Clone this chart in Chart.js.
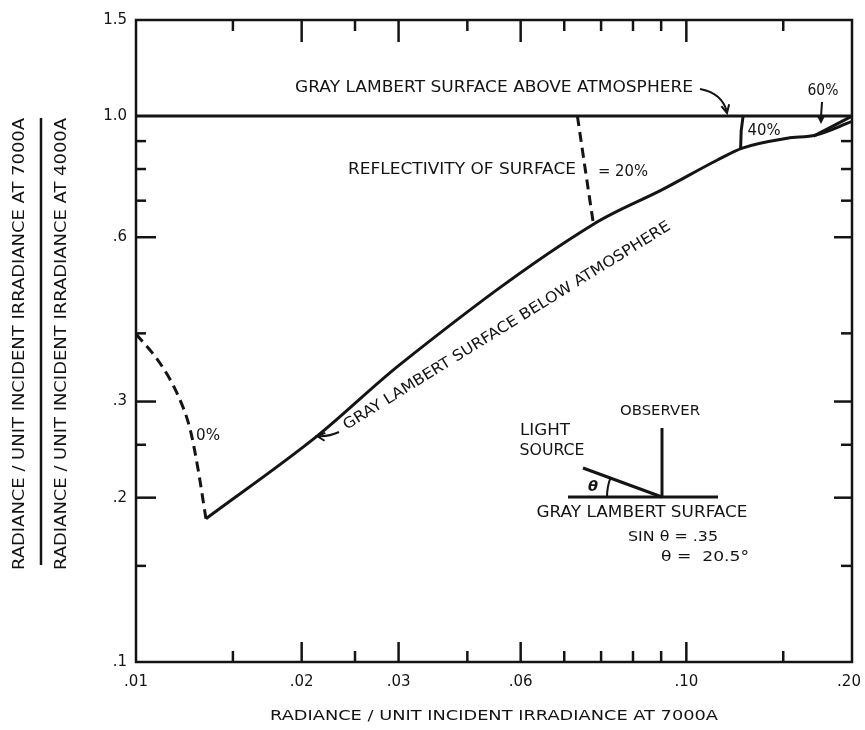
<!DOCTYPE html>
<html>
<head>
<meta charset="utf-8">
<script src="https://cdn.jsdelivr.net/npm/chart.js@4.4.0/dist/chart.umd.min.js"></script>
<style>
  html, body { margin: 0; padding: 0; background: #ffffff; }
  #wrap { width: 865px; height: 730px; position: relative; }
</style>
</head>
<body>
<div id="wrap"><canvas id="c" width="865" height="730"></canvas></div>
<script>
// ---- axis ticks ----
const xTickValues = [0.01, 0.02, 0.03, 0.05, 0.10, 0.20];
const xTickLabels = ['.01', '.02', '.03', '.06', '.10', '.20'];
const xMajorTicks = [0.02, 0.03, 0.05, 0.10];
const xMinorTicks = [0.015, 0.025, 0.04, 0.06, 0.07, 0.08, 0.09, 0.15];
const yTickValues = [0.1, 0.2, 0.3, 0.6, 1.0, 1.5];
const yTickLabels = ['.1', '.2', '.3', '.6', '1.0', '1.5'];
const yMajorTicks = [0.2, 0.3, 0.6];
const yMinorTicks = [0.15, 0.25, 0.4, 0.7, 0.8, 0.9];

// ---- curves ----
// gray Lambert surface above the atmosphere
const aboveX = [0.01, 0.20];
const aboveY = [1.0, 1.0];
// gray Lambert surface below the atmosphere
const belowX = [0.0134, 0.0213, 0.0302, 0.0678, 0.0908, 0.1139, 0.1264, 0.1526, 0.1718, 0.20];
const belowY = [0.183, 0.259, 0.351, 0.634, 0.735, 0.831, 0.874, 0.911, 0.923, 0.978];
// constant-reflectivity connectors
const refl0X = [0.01, 0.01105, 0.01192, 0.01254, 0.01296, 0.0134];
const refl0Y = [0.399, 0.353, 0.308, 0.267, 0.226, 0.183];
const refl20X = [0.0634, 0.0655, 0.0678];
const refl20Y = [1.0, 0.80, 0.634];
const refl40X = [0.1268, 0.1258, 0.1255];
const refl40Y = [1.0, 0.94, 0.874];
const refl60X = [0.1703, 0.20];
const refl60Y = [0.919, 1.0];

const INK = '#141414';
const FONT = '"DejaVu Sans", "Liberation Sans", sans-serif';

const pts = (xs, ys) => xs.map((x, i) => ({ x: x, y: ys[i] }));
const line = (xs, ys, dashed, smooth) => ({
  data: pts(xs, ys),
  showLine: true,
  borderColor: INK,
  borderWidth: 3,
  borderDash: dashed ? [10, 6] : [],
  pointRadius: 0,
  cubicInterpolationMode: smooth ? 'monotone' : 'default',
  tension: smooth ? 0.4 : 0,
  fill: false,
  clip: false
});

// draw text stretched/condensed to a given width
function fitText(ctx, text, cx, cy, width, size, rot, weight) {
  ctx.save();
  ctx.translate(cx, cy);
  if (rot) ctx.rotate(rot);
  ctx.font = (weight || '') + ' ' + size + 'px ' + FONT;
  const w = ctx.measureText(text).width;
  ctx.scale(width / w, 1);
  ctx.textAlign = 'center';
  ctx.textBaseline = 'middle';
  ctx.fillStyle = INK;
  ctx.fillText(text, 0, 0);
  ctx.restore();
}

function arrowHead(ctx, x, y, angle, len, filled) {
  ctx.save();
  ctx.translate(x, y);
  ctx.rotate(angle);
  ctx.beginPath();
  ctx.moveTo(-len, -len * 0.5);
  ctx.lineTo(0, 0);
  ctx.lineTo(-len, len * 0.5);
  if (filled) { ctx.closePath(); ctx.fill(); } else { ctx.stroke(); }
  ctx.restore();
}

const framePlugin = {
  id: 'frame',
  afterDraw(chart) {
    const ctx = chart.ctx;
    const xs = chart.scales.x, ys = chart.scales.y;
    const a = chart.chartArea;
    ctx.save();
    ctx.strokeStyle = INK;
    ctx.fillStyle = INK;
    ctx.lineCap = 'butt';

    // frame
    ctx.lineWidth = 2.5;
    ctx.strokeRect(a.left, a.top, a.right - a.left, a.bottom - a.top);

    // inward ticks
    ctx.lineWidth = 2.5;
    const tick = (x1, y1, x2, y2) => { ctx.beginPath(); ctx.moveTo(x1, y1); ctx.lineTo(x2, y2); ctx.stroke(); };
    xMajorTicks.forEach(v => { const p = xs.getPixelForValue(v); tick(p, a.bottom, p, a.bottom - 20); tick(p, a.top, p, a.top + 22); });
    xMinorTicks.forEach(v => { const p = xs.getPixelForValue(v); tick(p, a.bottom, p, a.bottom - 11); tick(p, a.top, p, a.top + 11); });
    yMajorTicks.forEach(v => { const p = ys.getPixelForValue(v); tick(a.left, p, a.left + 20, p); tick(a.right, p, a.right - 18, p); });
    yMinorTicks.forEach(v => { const p = ys.getPixelForValue(v); tick(a.left, p, a.left + 10, p); tick(a.right, p, a.right - 11, p); });

    // tick labels
    ctx.font = '15px ' + FONT;
    ctx.textBaseline = 'middle';
    ctx.textAlign = 'right';
    yTickValues.forEach((v, i) => ctx.fillText(yTickLabels[i], a.left - 9, ys.getPixelForValue(v)));
    ctx.textAlign = 'center';
    xTickValues.forEach((v, i) => {
      let p = xs.getPixelForValue(v);
      if (i === xTickValues.length - 1) p -= 3;
      ctx.fillText(xTickLabels[i], p, a.bottom + 20);
    });

    // axis titles
    fitText(ctx, 'RADIANCE / UNIT INCIDENT IRRADIANCE AT 7000A', (a.left + a.right) / 2, 716, 448, 14);
    fitText(ctx, 'RADIANCE / UNIT INCIDENT IRRADIANCE AT 7000A', 20, 344, 452, 15, -Math.PI / 2);
    fitText(ctx, 'RADIANCE / UNIT INCIDENT IRRADIANCE AT 4000A', 62, 344, 452, 15, -Math.PI / 2);
    ctx.lineWidth = 2.5;
    tick(41, 118, 41, 565);

    // curve annotations
    fitText(ctx, 'GRAY LAMBERT SURFACE ABOVE ATMOSPHERE', 494, 88, 398, 16);
    fitText(ctx, 'REFLECTIVITY OF SURFACE', 462, 170, 228, 16);
    fitText(ctx, '= 20%', 623, 172, 50, 16);
    fitText(ctx, '40%', 764, 131, 33, 16);
    fitText(ctx, '60%', 823, 91, 31, 16);
    fitText(ctx, '0%', 208, 436, 24, 16);
    fitText(ctx, 'GRAY LAMBERT SURFACE BELOW ATMOSPHERE', 507, 326, 382, 15, -0.555);

    // pointer arrows
    ctx.lineWidth = 2;
    ctx.beginPath();
    ctx.moveTo(700, 89);
    ctx.quadraticCurveTo(722, 93, 727, 112);
    ctx.stroke();
    arrowHead(ctx, 727, 113, 1.35, 8, false);

    ctx.beginPath();
    ctx.moveTo(339, 432);
    ctx.quadraticCurveTo(328, 437, 318, 436);
    ctx.stroke();
    arrowHead(ctx, 317, 436, Math.PI + 0.1, 8, false);

    ctx.beginPath();
    ctx.moveTo(822, 102);
    ctx.lineTo(821, 117);
    ctx.stroke();
    arrowHead(ctx, 821, 124, Math.PI / 2, 8, true);

    // viewing geometry sketch
    ctx.lineWidth = 3;
    tick(568, 497, 718, 497);
    tick(662, 428, 662, 497);
    tick(583, 468, 662, 497);
    ctx.lineWidth = 2;
    ctx.beginPath();
    ctx.arc(662, 497, 55, Math.PI + 0.36, Math.PI, true);
    ctx.stroke();
    fitText(ctx, 'OBSERVER', 660, 411, 80, 14);
    fitText(ctx, 'LIGHT', 545, 431, 50, 15);
    fitText(ctx, 'SOURCE', 552, 451, 65, 15);
    fitText(ctx, 'θ', 593, 487, 10, 14, 0, 'italic bold');
    fitText(ctx, 'GRAY LAMBERT SURFACE', 642, 513, 211, 15);
    fitText(ctx, 'SIN θ = .35', 673, 537, 90, 14);
    fitText(ctx, 'θ =  20.5°', 705, 557, 88, 14);
    ctx.restore();
  }
};

new Chart(document.getElementById('c'), {
  type: 'scatter',
  data: {
    datasets: [
      line(aboveX, aboveY, false),
      line(belowX, belowY, false, true),
      line(refl0X, refl0Y, true, true),
      line(refl20X, refl20Y, true, true),
      line(refl40X, refl40Y, false, false),
      line(refl60X, refl60Y, false)
    ]
  },
  options: {
    responsive: false,
    animation: false,
    devicePixelRatio: 1,
    layout: { padding: { left: 136, right: 13, top: 20, bottom: 68 } },
    plugins: { legend: { display: false }, tooltip: { enabled: false } },
    scales: {
      x: { type: 'logarithmic', min: 0.01, max: 0.20, display: false },
      y: { type: 'logarithmic', min: 0.1, max: 1.5, display: false }
    }
  },
  plugins: [framePlugin]
});
</script>
</body>
</html>
